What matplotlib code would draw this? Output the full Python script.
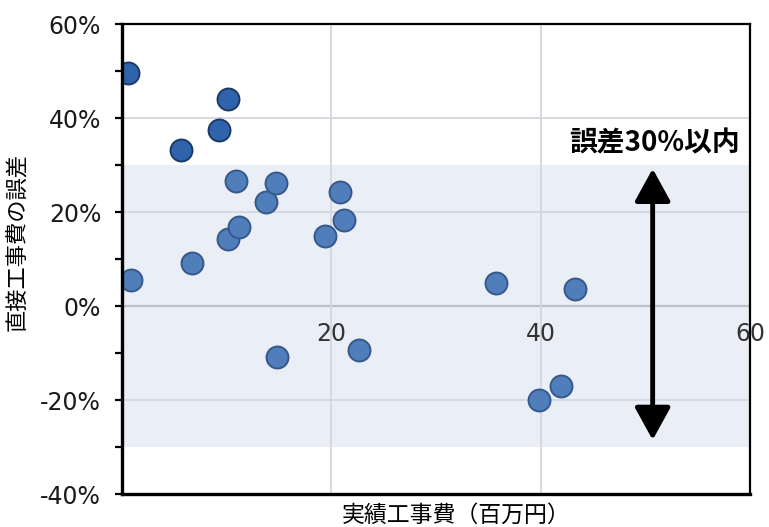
import matplotlib
matplotlib.use("Agg")
import matplotlib.pyplot as plt
from matplotlib.ticker import MultipleLocator, FuncFormatter

plt.rcParams['font.family'] = ['DejaVu Sans']
JP = ['Noto Sans CJK JP', 'DejaVu Sans']

# Projects whose error exceeds 30% (darker markers)
out_cost = [0.6, 5.6, 9.3, 10.1]
out_err = [49.6, 33.2, 37.4, 44.0]

# Projects within the 30% band
in_cost = [0.9, 6.7, 10.9, 10.1, 11.2, 13.8, 14.7, 14.8, 19.4, 20.8, 21.2,
           22.6, 35.7, 43.3, 39.8, 41.9]
in_err = [5.6, 9.2, 26.6, 14.3, 16.9, 22.1, 26.1, -10.9, 14.9, 24.3, 18.2,
          -9.4, 5.0, 3.6, -20.0, -17.0]

band_limit = 30
arrow_span = (-28.5, 29.2)
x_ticks = [20, 40, 60]
x_label = '実績工事費（百万円）'
y_label = '直接工事費の誤差'
note = '誤差30%以内'

fig = plt.figure(figsize=(7.69, 5.27), dpi=100)
ax = fig.add_axes([122 / 769, 1 - 494 / 527, (750 - 122) / 769, (494 - 24) / 527])

ax.set_xlim(0, 60)
ax.set_ylim(-40, 60)

# shaded tolerance band
ax.axhspan(-band_limit, band_limit, color='#EAEEF6', zorder=0, lw=0)

# gridlines
for y in [-20, 20, 40]:
    ax.axhline(y, color='#D4D7DD', lw=1.3, zorder=1)
ax.axhline(0, color='#BCC0C8', lw=1.6, zorder=1)
for x in x_ticks[:-1]:
    ax.axvline(x, color='#D4D7DD', lw=1.3, zorder=1)

ax.scatter(in_cost, in_err, s=250, facecolor='#4F7EBB', edgecolor='#36598A',
           linewidth=1.4, zorder=3)
ax.scatter(out_cost, out_err, s=250, facecolor='#2F64AD', edgecolor='#1D3A66',
           linewidth=1.4, zorder=3)

# y axis ticks
ax.yaxis.set_major_locator(MultipleLocator(20))
ax.yaxis.set_minor_locator(MultipleLocator(10))
ax.yaxis.set_major_formatter(FuncFormatter(lambda v, p: f'{v:.0f}%'))
ax.tick_params(axis='y', which='both', direction='out', length=5, width=1.6,
               color='black', pad=10, labelsize=17, labelcolor='#1a1a1a')
ax.set_xticks([])

# x tick labels sit just under the zero line
for x in x_ticks:
    ax.text(x, -3.3, f'{x}', ha='center', va='top', fontsize=17, color='#333333', zorder=5)

for side in ['left', 'bottom']:
    ax.spines[side].set_linewidth(2.4)
for side in ['top', 'right']:
    ax.spines[side].set_linewidth(1.6)
for s in ax.spines.values():
    s.set_color('black')
    s.set_zorder(4)

# tolerance arrow
ax.annotate('', xy=(50.7, arrow_span[1]), xytext=(50.7, arrow_span[0]),
            arrowprops=dict(arrowstyle='<|-|>,head_length=1.0,head_width=0.55',
                            mutation_scale=20, lw=3.5, color='black',
                            shrinkA=0, shrinkB=0), zorder=6)
ax.text(50.9, 34.6, note, ha='center', va='center', fontsize=20,
        fontweight='bold', family=JP, zorder=6)

fig.text(456 / 769, 1 - 515 / 527, x_label, ha='center', va='center',
         fontsize=16.5, family=JP)
fig.text(18 / 769, 1 - 242 / 527, y_label, ha='center', va='center',
         rotation=90, fontsize=16, family=JP)

fig.savefig('out.png', dpi=100)
